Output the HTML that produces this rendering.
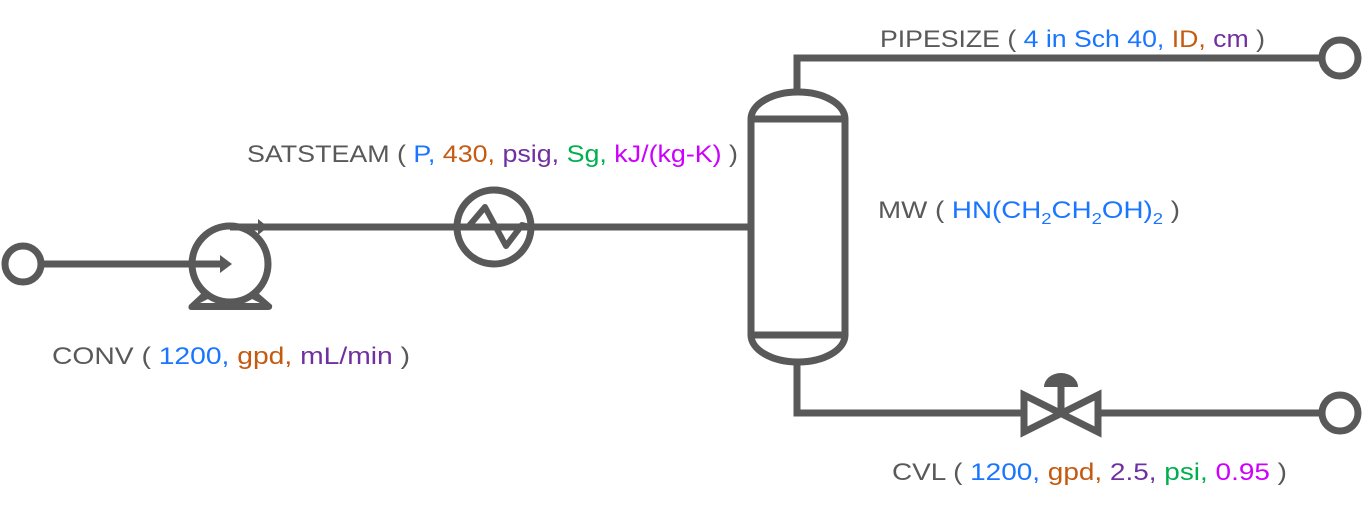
<!DOCTYPE html>
<html><head><style>
body{margin:0;background:#fff;}
svg text{font-family:"Liberation Sans",sans-serif;font-size:24px;fill:#595959;}
.b{fill:#1a75ff}.o{fill:#c55a11}.p{fill:#7030a0}.g{fill:#00b050}.m{fill:#cc00ff}
</style></head><body>
<svg width="1367" height="510" viewBox="0 0 1367 510" xmlns="http://www.w3.org/2000/svg">
<g fill="none" stroke="#595959" stroke-width="7">
<circle cx="23" cy="264" r="18"/>
<line x1="41" y1="264" x2="222" y2="264"/>
<circle cx="230" cy="264" r="38"/>
<path d="M230 227 H748"/>
<circle cx="494" cy="227" r="37"/>
<path d="M460 227 L468 227 L485 207 L506 246 L522 225 L530 227" stroke-width="6" stroke-linejoin="round"/>
<path d="M751 119 V335 M845 119 V335 M751 119 H845 M751 335 H845"/>
<path d="M751 119 A47 27 0 0 1 845 119 M751 335 A47 27 0 0 0 845 335"/>
<path d="M797 92 V58 H1322"/>
<circle cx="1340" cy="58" r="18"/>
<path d="M797 362 V413 H1022 M1100 413 H1322"/>
<circle cx="1340" cy="413" r="18"/>
<path d="M1024 395 L1024 432 L1098 395 L1098 432 Z" stroke-linejoin="miter"/>
<line x1="1061" y1="413" x2="1061" y2="385"/>
</g>
<path d="M1044 387 A17 14 0 0 1 1078 387 Z" fill="#595959"/>
<path d="M203 292 L212 297 L200 303 H260 L248 297 L257 292 L272 305 Q273 310 268 310 H192 Q187 310 189 305 Z" fill="#595959"/>
<path d="M220 255 L232 264 L220 273 Z" fill="#595959"/>
<path d="M258 219 L268 227 L258 235 Z" fill="#595959"/>
<text x="247" y="162" textLength="491" lengthAdjust="spacingAndGlyphs">SATSTEAM ( <tspan class="b">P,</tspan> <tspan class="o">430,</tspan> <tspan class="p">psig,</tspan> <tspan class="g">Sg,</tspan> <tspan class="m">kJ/(kg-K)</tspan> )</text>
<text x="880" y="47" textLength="385" lengthAdjust="spacingAndGlyphs">PIPESIZE ( <tspan class="b">4 in Sch 40,</tspan> <tspan class="o">ID,</tspan> <tspan class="p">cm</tspan> )</text>
<text x="878" y="218" textLength="302" lengthAdjust="spacingAndGlyphs">MW ( <tspan class="b">HN(CH<tspan font-size="16" dy="6">2</tspan><tspan dy="-6">CH</tspan><tspan font-size="16" dy="6">2</tspan><tspan dy="-6">OH)</tspan><tspan font-size="16" dy="6">2</tspan></tspan><tspan dy="-6"> )</tspan></text>
<text x="52" y="364" textLength="358" lengthAdjust="spacingAndGlyphs">CONV ( <tspan class="b">1200,</tspan> <tspan class="o">gpd,</tspan> <tspan class="p">mL/min</tspan> )</text>
<text x="892" y="480" textLength="395" lengthAdjust="spacingAndGlyphs">CVL ( <tspan class="b">1200,</tspan> <tspan class="o">gpd,</tspan> <tspan class="p">2.5,</tspan> <tspan class="g">psi,</tspan> <tspan class="m">0.95</tspan> )</text>
</svg>
</body></html>
